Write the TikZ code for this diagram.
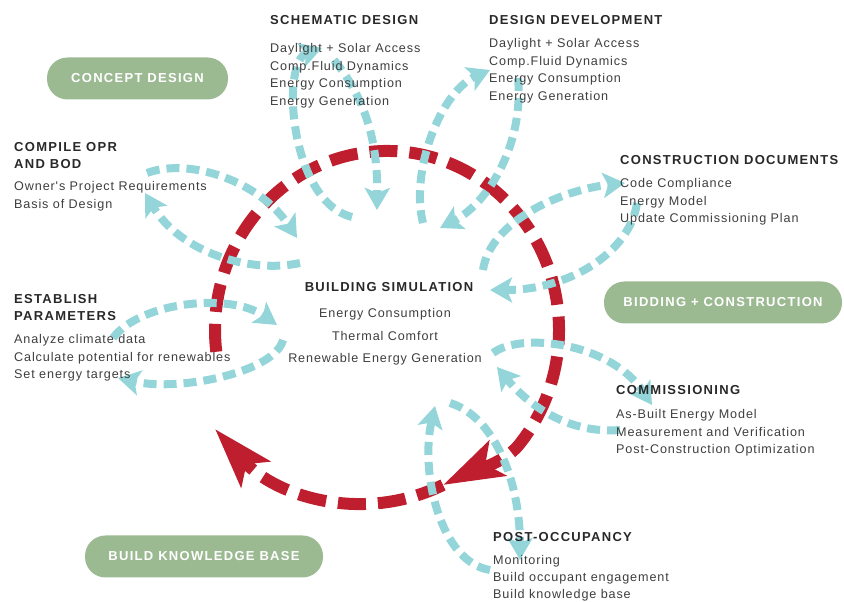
\documentclass[tikz,border=0pt]{standalone}
\usepackage{fontspec}
\setmainfont{Liberation Sans}
\newfontfamily\headfont{Liberation Sans}[LetterSpace=10]
\newfontfamily\itemfont{Liberation Sans}[LetterSpace=7]
\definecolor{bsred}{RGB}{190,30,45}
\definecolor{bsteal}{RGB}{148,213,218}
\definecolor{bsgreen}{RGB}{156,186,146}
\definecolor{bstext}{RGB}{40,40,40}
\definecolor{bsitem}{RGB}{62,62,62}
\usetikzlibrary{arrows.meta}

\begin{document}
\begin{tikzpicture}[x=1pt, y=1pt,
  phase/.style={anchor=north west, inner sep=0pt, align=left, text=bstext, font=\headfont\bfseries\fontsize{13}{17}\selectfont},
  items/.style={anchor=north west, inner sep=0pt, align=left, text=bsitem, font=\itemfont\fontsize{12.6}{17.5}\selectfont},
  stage/.style={fill=bsgreen, rounded corners=20.5pt, minimum height=42pt, text=white, font=\headfont\bfseries\fontsize{13}{16}\selectfont},
  redring/.style={bsred, line width=12pt, dash pattern=on 28pt off 12pt, -{Stealth[length=60pt, width=38pt, inset=13pt]}},
  tealpath/.style={bsteal, line width=8pt, dash pattern=on 13pt off 7pt, -{Stealth[length=22pt, width=25pt, inset=5pt]}}]
  \useasboundingbox (0,0) rectangle (844,602);

  % Ends of the red ring
  \coordinate (redstart) at (216.3,250.2);
  \coordinate (redmid) at (443,117);
  \coordinate (redend) at (215,173);

  % Ends of the teal loops (out and back)
  \coordinate (sd1) at (352,385); \coordinate (sd2) at (322,554);
  \coordinate (sd3) at (334,542); \coordinate (sd4) at (377,392);
  \coordinate (dd1) at (423,379); \coordinate (dd2) at (490,532);
  \coordinate (dd3) at (518,524); \coordinate (dd4) at (440,374);
  \coordinate (op1) at (147,429); \coordinate (op2) at (297,364);
  \coordinate (op3) at (300,339); \coordinate (op4) at (145,409);
  \coordinate (cd1) at (483,332); \coordinate (cd2) at (625,419);
  \coordinate (cd3) at (637,399); \coordinate (cd4) at (490,312);
  \coordinate (ep1) at (113,264); \coordinate (ep2) at (277,277);
  \coordinate (ep3) at (283,262); \coordinate (ep4) at (118,224);
  \coordinate (cx1) at (493,249); \coordinate (cx2) at (652,197);
  \coordinate (cx3) at (620,172); \coordinate (cx4) at (497,235);
  \coordinate (po1) at (450,199); \coordinate (po2) at (520,42);
  \coordinate (po3) at (490,32);  \coordinate (po4) at (435,196);

  % Red ring around the simulation
  \draw[redring] (redstart) arc[start angle=187, end angle=-40, x radius=172, y radius=179]
    .. controls (503,137.5) and (465.5,128) .. (redmid);
  \draw[redring] (redmid) .. controls (362,77.6) and (275,106) .. (redend);

  % Teal loops
  \draw[tealpath] (sd1) .. controls +(-62,15) and +(-42,-14) .. (sd2);
  \draw[tealpath] (sd3) .. controls +(26,-32) and +(1,78) .. (sd4);
  \draw[tealpath] (dd1) .. controls +(-13,51) and +(-50,-22) .. (dd2);
  \draw[tealpath] (dd3) .. controls +(6,-64) and +(50,26) .. (dd4);
  \draw[tealpath] (op1) .. controls +(43,16) and +(-37,56) .. (op2);
  \draw[tealpath] (op3) .. controls +(-50,-11) and +(35,-59) .. (op4);
  \draw[tealpath] (cd1) .. controls +(7,48) and +(-65,-7) .. (cd2);
  \draw[tealpath] (cd3) .. controls +(-7,-49) and +(80,0) .. (cd4);
  \draw[tealpath] (ep1) .. controls +(27,36) and +(-47,33) .. (ep2);
  \draw[tealpath] (ep3) .. controls +(-8,-32) and +(62,-14) .. (ep4);
  \draw[tealpath] (cx1) .. controls +(27,21) and +(-42,63) .. (cx2);
  \draw[tealpath] (cx3) .. controls +(-50,-4) and +(33,-40) .. (cx4);
  \draw[tealpath] (po1) .. controls +(45,-14) and +(0,78) .. (po2);
  \draw[tealpath] (po3) .. controls +(-50,8) and +(-15,-66) .. (po4);

  % Stages
  \node[stage, minimum width=181pt] (concept) at (137.5,523.5) {CONCEPT DESIGN};
  \node[stage, minimum width=238pt] (bidding) at (723,299.5) {BIDDING + CONSTRUCTION};
  \node[stage, minimum width=238pt] (knowledge) at (204,45.5) {BUILD KNOWLEDGE BASE};

  % Centre
  \node[phase, anchor=north] (sim) at (389,319.7) {BUILDING SIMULATION};
  \node[items, anchor=north, align=center, font=\itemfont\fontsize{12.6}{22.5}\selectfont] (sim2) at (385,293.7) {Energy Consumption\\Thermal Comfort\\Renewable Energy Generation};

  % Schematic design
  \node[phase] (schem) at (270,586.6) {SCHEMATIC DESIGN};
  \node[items] (schem2) at (270,558.7) {Daylight + Solar Access\\Comp.Fluid Dynamics\\Energy Consumption\\Energy Generation};

  % Design development
  \node[phase] (devel) at (489,586.6) {DESIGN DEVELOPMENT};
  \node[items] (devel2) at (489,563.7) {Daylight + Solar Access\\Comp.Fluid Dynamics\\Energy Consumption\\Energy Generation};

  % OPR and BOD
  \node[phase] (compile) at (14,459.7) {COMPILE OPR\\AND BOD};
  \node[items] (compile2) at (14,420.7) {Owner's Project Requirements\\Basis of Design};

  % Construction documents
  \node[phase] (cdocs) at (620,446.7) {CONSTRUCTION DOCUMENTS};
  \node[items] (cdocs2) at (620,423.7) {Code Compliance\\Energy Model\\Update Commissioning Plan};

  % Parameters
  \node[phase] (establish) at (14,307.7) {ESTABLISH\\PARAMETERS};
  \node[items] (establish2) at (14,267.7) {Analyze climate data\\Calculate potential for renewables\\Set energy targets};

  % Commissioning
  \node[phase] (commis) at (616,216.7) {COMMISSIONING};
  \node[items] (commis2) at (616,192.7) {As-Built Energy Model\\Measurement and Verification\\Post-Construction Optimization};

  % Post-occupancy
  \node[phase] (postocc) at (493,69.7) {POST-OCCUPANCY};
  \node[items, font=\itemfont\fontsize{12.6}{17}\selectfont] (postocc2) at (493,47.2) {Monitoring\\Build occupant engagement\\Build knowledge base};
\end{tikzpicture}
\end{document}
